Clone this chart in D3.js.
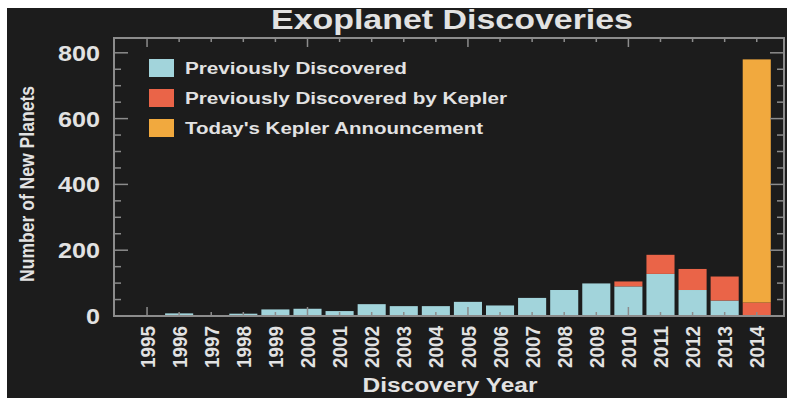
<!DOCTYPE html>
<html>
<head>
<meta charset="utf-8">
<script src="https://cdn.jsdelivr.net/npm/d3@7"></script>
<style>
  body { margin: 0; background: #fff; }
  text { font-family: "Liberation Sans", Arial, sans-serif; fill: #e2e2e2; }
</style>
</head>
<body>
<div id="chart"></div>
<script>
// data
var years = ['1995', '1996', '1997', '1998', '1999', '2000', '2001', '2002', '2003', '2004',
    '2005', '2006', '2007', '2008', '2009', '2010', '2011', '2012', '2013', '2014']
var previous = [1, 8, 1, 7, 20, 22, 15, 36, 30, 30, 43, 32, 55, 79, 99, 90, 128, 79, 47, 0]
var previousKepler = [0, 0, 0, 0, 0, 0, 0, 0, 0, 0, 0, 0, 0, 0, 0, 15, 58, 64, 73, 41]
var todayKepler = [0, 0, 0, 0, 0, 0, 0, 0, 0, 0, 0, 0, 0, 0, 0, 0, 0, 0, 0, 739]
var yTicks = [0, 200, 400, 600, 800]
var seriesNames = ['Previously Discovered', 'Previously Discovered by Kepler', "Today's Kepler Announcement"]
var seriesKeys = ['previous', 'previousKepler', 'todayKepler']
var colors = ['#a2d4db', '#ea6448', '#f1a93e']

var svgWidth = 787,
    svgHeight = 398
var frame = { left: 114, right: 784, top: 38, bottom: 316 }

// the source uses a wide bold face, so text widths are pinned to what the picture shows
var legendWidths = [222, 322, 298]

var rows = years.map((y, i) => ({
    year: y,
    previous: previous[i],
    previousKepler: previousKepler[i],
    todayKepler: todayKepler[i]
}))

var svg = d3.select('#chart').append('svg')
    .attr('width', svgWidth)
    .attr('height', svgHeight)

// dark panel, the white strip top/left is part of the source picture
svg.append('rect')
    .attr('x', 7).attr('y', 8)
    .attr('width', svgWidth - 7).attr('height', svgHeight - 8)
    .attr('fill', '#1c1c1c')

var xScale = d3.scaleBand()
    .domain(years)
    .range([131, 772.8])
    .paddingInner(0.125)
    .paddingOuter(0.0625)

var yScale = d3.scaleLinear()
    .domain([0, 845])
    .range([frame.bottom, frame.top])

var stack = d3.stack().keys(seriesKeys)(rows)

svg.append('g')
    .selectAll('g')
    .data(stack)
    .join('g')
    .attr('fill', (d, i) => colors[i])
    .selectAll('rect')
    .data(d => d.filter(s => s[1] > s[0]))
    .join('rect')
    .attr('x', d => xScale(d.data.year))
    .attr('width', xScale.bandwidth())
    .attr('y', d => yScale(d[1]))
    .attr('height', d => yScale(d[0]) - yScale(d[1]))

// frame with inward ticks on all four sides
var axisColor = '#8c8c8c'
var minor = d3.range(0, 846, 50)
var ticks = svg.append('g').attr('stroke', axisColor).attr('stroke-width', 1.5)

minor.forEach(v => {
    var len = v % 200 === 0 ? 14 : 7
    ticks.append('line')
        .attr('x1', frame.left).attr('x2', frame.left + len)
        .attr('y1', yScale(v)).attr('y2', yScale(v))
    ticks.append('line')
        .attr('x1', frame.right).attr('x2', frame.right - len)
        .attr('y1', yScale(v)).attr('y2', yScale(v))
})

years.forEach(y => {
    var cx = xScale(y) + xScale.bandwidth() / 2
    var len = (+y) % 5 === 0 ? 9 : 4
    ticks.append('line')
        .attr('x1', cx).attr('x2', cx)
        .attr('y1', frame.top).attr('y2', frame.top + len)
    ticks.append('line')
        .attr('x1', cx).attr('x2', cx)
        .attr('y1', frame.bottom).attr('y2', frame.bottom - len)
})

svg.append('rect')
    .attr('x', frame.left).attr('y', frame.top)
    .attr('width', frame.right - frame.left)
    .attr('height', frame.bottom - frame.top)
    .attr('fill', 'none')
    .attr('stroke', axisColor)
    .attr('stroke-width', 2)

// y tick labels
svg.append('g')
    .selectAll('text')
    .data(yTicks)
    .join('text')
    .attr('x', 100)
    .attr('y', d => yScale(d))
    .attr('dy', '0.36em')
    .attr('text-anchor', 'end')
    .attr('textLength', d => String(d).length * 14)
    .attr('lengthAdjust', 'spacingAndGlyphs')
    .style('font-size', '22px')
    .style('font-weight', 'bold')
    .text(d => d)

// x tick labels, rotated
svg.append('g')
    .selectAll('text')
    .data(years)
    .join('text')
    .attr('transform', d => 'translate(' + (xScale(d) + xScale.bandwidth() / 2) + ',326)rotate(-90)')
    .attr('dy', '0.36em')
    .attr('text-anchor', 'end')
    .attr('textLength', 42)
    .attr('lengthAdjust', 'spacingAndGlyphs')
    .style('font-size', '21px')
    .style('font-weight', 'bold')
    .text(d => d)

svg.append('text')
    .attr('x', 452)
    .attr('y', 29)
    .attr('text-anchor', 'middle')
    .attr('textLength', 362)
    .attr('lengthAdjust', 'spacingAndGlyphs')
    .style('font-size', '27px')
    .style('font-weight', 'bold')
    .text('Exoplanet Discoveries')

svg.append('text')
    .attr('x', 450)
    .attr('y', 392)
    .attr('text-anchor', 'middle')
    .attr('textLength', 175)
    .attr('lengthAdjust', 'spacingAndGlyphs')
    .style('font-size', '20px')
    .style('font-weight', 'bold')
    .text('Discovery Year')

svg.append('text')
    .attr('transform', 'translate(34,184)rotate(-90)')
    .attr('text-anchor', 'middle')
    .attr('textLength', 196)
    .attr('lengthAdjust', 'spacingAndGlyphs')
    .style('font-size', '20px')
    .style('font-weight', 'bold')
    .text('Number of New Planets')

// legend
var legend = svg.append('g')
    .selectAll('g')
    .data(seriesNames)
    .join('g')
    .attr('transform', (d, i) => 'translate(149,' + (68 + i * 30) + ')')

legend.append('rect')
    .attr('y', -9)
    .attr('width', 25)
    .attr('height', 18)
    .attr('fill', (d, i) => colors[i])

legend.append('text')
    .attr('x', 36)
    .attr('dy', '0.36em')
    .attr('textLength', (d, i) => legendWidths[i])
    .attr('lengthAdjust', 'spacingAndGlyphs')
    .style('font-size', '16px')
    .style('font-weight', 'bold')
    .text(d => d)
</script>
</body>
</html>
